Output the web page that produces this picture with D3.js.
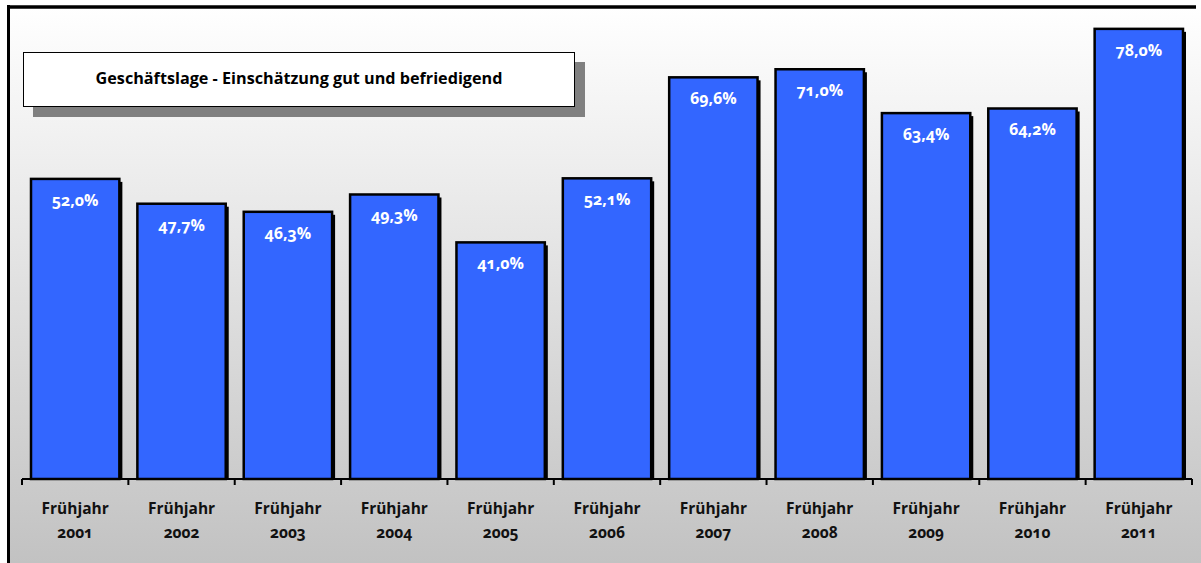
<!DOCTYPE html>
<html lang="de">
<head>
<meta charset="UTF-8">
<title>Geschäftslage</title>
<script src="https://d3js.org/d3.v7.min.js"></script>
<style>
    * { margin: 0; padding: 0; }
    body { background: #fff; }
    svg { display: block; font-family: "Open Sans", Lato, sans-serif; font-variant-numeric: oldstyle-nums; }
    .val { fill: #fff; font-weight: bold; font-size: 16px; text-anchor: middle; }
    .cat { fill: #111; font-weight: bold; font-size: 15.5px; text-anchor: middle; }
</style>
</head>
<body>
<script>
    var years = ["2001", "2002", "2003", "2004", "2005", "2006", "2007", "2008", "2009", "2010", "2011"];
    var values = [52.0, 47.7, 46.3, 49.3, 41.0, 52.1, 69.6, 71.0, 63.4, 64.2, 78.0];
    var prefix = "Frühjahr";
    var title = "Geschäftslage - Einschätzung gut und befriedigend";

    var W = 1201, H = 563;
    var svg = d3.select("body").append("svg").attr("width", W).attr("height", H);

    var defs = svg.append("defs");
    var grad = defs.append("linearGradient").attr("id", "bg")
        .attr("x1", 0).attr("y1", 0).attr("x2", 0).attr("y2", 1);
    grad.append("stop").attr("offset", "0%").attr("stop-color", "#ffffff");
    grad.append("stop").attr("offset", "100%").attr("stop-color", "#c2c2c2");

    // plot background and frame
    svg.append("rect").attr("x", 8).attr("y", 7).attr("width", W - 8).attr("height", H - 7)
        .attr("fill", "url(#bg)");
    svg.append("line").attr("x1", 8.5).attr("x2", 8.5).attr("y1", 5).attr("y2", H)
        .attr("stroke", "#000").attr("stroke-width", 3);
    svg.append("line").attr("x1", 7).attr("x2", 1196).attr("y1", 7).attr("y2", 7)
        .attr("stroke", "#000").attr("stroke-width", 3.5);

    var x = d3.scaleBand().domain(years).range([22, 1192]);
    var y = d3.scaleLinear().domain([0, 83]).range([479, 0]);
    var pad = 9;

    // bar shadows
    svg.append("g").selectAll("rect").data(values).join("rect")
        .attr("x", function(d, i) { return x(years[i]) + pad + 3; })
        .attr("y", function(d) { return y(d) + 3; })
        .attr("width", x.bandwidth() - 2 * pad)
        .attr("height", function(d) { return y(0) - y(d) - 3; })
        .attr("fill", "#000");

    // bars
    svg.append("g").selectAll("rect").data(values).join("rect")
        .attr("x", function(d, i) { return x(years[i]) + pad; })
        .attr("y", function(d) { return y(d); })
        .attr("width", x.bandwidth() - 2 * pad)
        .attr("height", function(d) { return y(0) - y(d); })
        .attr("fill", "#3366ff")
        .attr("stroke", "#000")
        .attr("stroke-width", 2.5);

    // value labels
    svg.append("g").selectAll("text").data(values).join("text")
        .attr("class", "val")
        .attr("x", function(d, i) { return x(years[i]) + x.bandwidth() / 2; })
        .attr("y", function(d) { return y(d) + 27; })
        .text(function(d) { return d.toFixed(1).replace(".", ",") + "%"; });

    // x axis
    var ax = svg.append("g");
    ax.append("line").attr("x1", x.range()[0]).attr("x2", x.range()[1])
        .attr("y1", y(0)).attr("y2", y(0)).attr("stroke", "#000").attr("stroke-width", 2);
    var ticks = years.map(function(c) { return x(c); }).concat([x.range()[1]]);
    ax.selectAll("line.tick").data(ticks).join("line").attr("class", "tick")
        .attr("x1", function(d) { return d; }).attr("x2", function(d) { return d; })
        .attr("y1", y(0)).attr("y2", y(0) + 6)
        .attr("stroke", "#000").attr("stroke-width", 2);
    var labs = ax.selectAll("text").data(years).join("text").attr("class", "cat")
        .attr("x", function(d) { return x(d) + x.bandwidth() / 2; });
    labs.append("tspan").attr("x", function(d) { return x(d) + x.bandwidth() / 2; })
        .attr("y", 514).text(prefix);
    labs.append("tspan").attr("x", function(d) { return x(d) + x.bandwidth() / 2; })
        .attr("y", 538).text(function(d) { return d; });

    // title box
    svg.append("rect").attr("x", 33).attr("y", 62).attr("width", 552).attr("height", 55)
        .attr("fill", "#808080");
    svg.append("rect").attr("x", 23.5).attr("y", 52.5).attr("width", 551).attr("height", 54)
        .attr("fill", "#fff").attr("stroke", "#000").attr("stroke-width", 1);
    svg.append("text").attr("x", 299).attr("y", 84)
        .attr("text-anchor", "middle").attr("font-weight", "bold").attr("font-size", 16.2)
        .attr("fill", "#000").text(title);
</script>
</body>
</html>
